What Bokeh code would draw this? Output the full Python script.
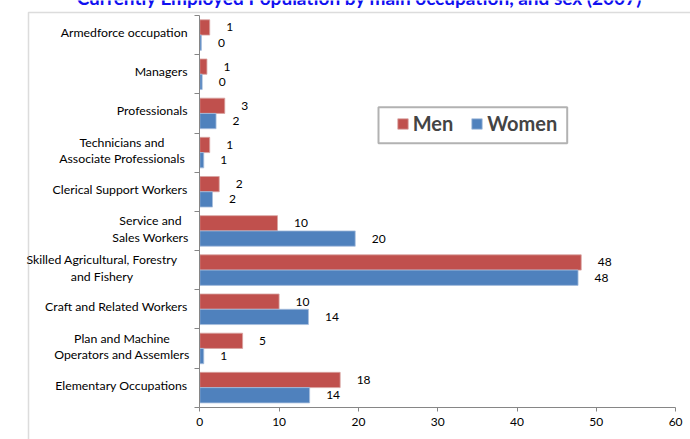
from bokeh.plotting import figure
from bokeh.models import Range1d, LinearAxis, FixedTicker, BoxAnnotation, Legend, LegendItem
from bokeh.core.properties import value
from bokeh.embed import file_html
from bokeh.resources import INLINE

# ---------------- data ----------------
title_text = "Currently Employed Population by main occupation, and sex (2007)"
categories = [
    "Armedforce occupation",
    "Managers",
    "Professionals",
    "Technicians and\nAssociate Professionals",
    "Clerical Support Workers",
    "Service and\nSales Workers",
    "Skilled Agricultural, Forestry\nand Fishery",
    "Craft and Related Workers",
    "Plan and Machine\nOperators and Assemlers",
    "Elementary Occupations",
]
men = [1.25, 0.9, 3.15, 1.25, 2.45, 9.8, 48.1, 10.0, 5.4, 17.7]
women = [0.2, 0.3, 2.05, 0.5, 1.6, 19.6, 47.7, 13.7, 0.5, 13.85]
men_labels = ["1", "1", "3", "1", "2", "10", "48", "10", "5", "18"]
women_labels = ["0", "0", "2", "1", "2", "20", "48", "14", "1", "14"]
x_ticks = [0, 10, 20, 30, 40, 50, 60]
series_names = ["Men", "Women"]

# ---------------- layout constants (pixels) ----------------
W, H = 690, 439
X0_PX = 199.3          # canvas x of value 0
PX_PER_X = 7.93        # pixels per unit on x
Y0_PX = 15.0           # canvas y of top category boundary
PX_PER_CAT = 39.17     # pixels per category
RED = "#C0504D"
BLUE = "#4F81BD"
GREY = "#868686"
FONT = "Lato"


def px_x(px):
    return (px - X0_PX) / PX_PER_X


def px_y(py):
    return (py - Y0_PX) / PX_PER_CAT


x_range = Range1d(px_x(0), px_x(W))
y_range = Range1d(px_y(H), px_y(0))

p = figure(width=W, height=H, x_range=x_range, y_range=y_range,
           output_backend="svg", toolbar_location=None,
           x_axis_location=None, y_axis_location=None, min_border=0)
p.outline_line_color = None
p.background_fill_color = "white"
p.border_fill_color = "white"
p.grid.grid_line_color = None

n = len(categories)
bar_h = 0.39
men_y = [i + 0.5 - bar_h / 2 for i in range(n)]
women_y = [i + 0.5 + bar_h / 2 for i in range(n)]

# chart-area border
p.add_layout(BoxAnnotation(left=px_x(28), top=px_y(12),
                           right=px_x(W + 20), bottom=px_y(H + 20),
                           fill_alpha=0, line_color="#8c8c8c", line_width=1.5))

# title (cut off at top as in the original)
p.text(x=[px_x(359)], y=[px_y(0)], text=[title_text],
       text_align="center", text_baseline="alphabetic", y_offset=-3,
       text_font=value(FONT), text_font_style="bold", text_font_size="19px",
       text_color="#1010F0")

# bars
r_m = p.hbar(y=men_y, left=0, right=men, height=bar_h,
             fill_color=RED, line_color="#D8A3A1", line_width=0.8)
r_w = p.hbar(y=women_y, left=0, right=women, height=bar_h,
             fill_color=BLUE, line_color="#A7BEDD", line_width=0.8)

# data labels
p.text(x=men, y=men_y, text=men_labels, x_offset=16.5, text_align="left",
       text_baseline="middle", text_font=value(FONT), text_font_size="12px",
       text_color="black")
p.text(x=women, y=women_y, text=women_labels, x_offset=16.5, text_align="left",
       text_baseline="middle", text_font=value(FONT), text_font_size="12px",
       text_color="black")

# category labels
CHAR_W = 5.7
LABEL_RIGHT = -12.3
s_idx = [i for i, c in enumerate(categories) if "\n" not in c]
m_idx = [i for i, c in enumerate(categories) if "\n" in c]
p.text(x=[0] * len(s_idx), y=[i + 0.5 for i in s_idx], text=[categories[i] for i in s_idx],
       x_offset=LABEL_RIGHT, y_offset=-2.5, text_align="right", text_baseline="middle",
       text_font=value(FONT), text_font_size="12.3px", text_color="black")
m_off = [LABEL_RIGHT - max(len(s) for s in categories[i].split("\n")) * CHAR_W / 2 for i in m_idx]
p.text(x=[0] * len(m_idx), y=[i + 0.5 for i in m_idx], text=[categories[i] for i in m_idx],
       x_offset=m_off, y_offset=-2, text_align="center", text_baseline="middle",
       text_line_height=1.1,
       text_font=value(FONT), text_font_size="12.3px", text_color="black")

# axes
xaxis = LinearAxis(fixed_location=n, bounds=(0, 60), ticker=FixedTicker(ticks=x_ticks),
                   axis_line_color=GREY, major_tick_line_color=GREY,
                   major_tick_out=4, major_tick_in=0, minor_tick_line_color=None,
                   major_label_standoff=7, major_label_text_font=FONT,
                   major_label_text_font_size="12px", major_label_text_color="black")
p.add_layout(xaxis, "below")
yaxis = LinearAxis(fixed_location=0, bounds=(0, n),
                   ticker=FixedTicker(ticks=[], minor_ticks=list(range(n + 1))),
                   axis_line_color=GREY, minor_tick_line_color=GREY,
                   minor_tick_out=5, minor_tick_in=0, major_tick_line_color=None,
                   major_label_text_font_size="0px")
p.add_layout(yaxis, "left")

# legend frame + legend
p.add_layout(BoxAnnotation(left=px_x(378), right=px_x(566.7), top=px_y(106.7), bottom=px_y(142.7),
                           fill_color="white", fill_alpha=1, line_color="black", line_width=2))
legend = Legend(items=[LegendItem(label=series_names[0], renderers=[r_m]),
                       LegendItem(label=series_names[1], renderers=[r_w])],
                orientation="horizontal", location=(395.7, H - 135),
                border_line_color=None, background_fill_alpha=0,
                padding=0, margin=0, spacing=17,
                label_standoff=4, glyph_width=13, glyph_height=13,
                label_text_font=FONT, label_text_font_style="bold",
                label_text_font_size="20px", label_height=20)
p.add_layout(legend, "center")

open("out.html", "w").write(file_html(p, INLINE))
